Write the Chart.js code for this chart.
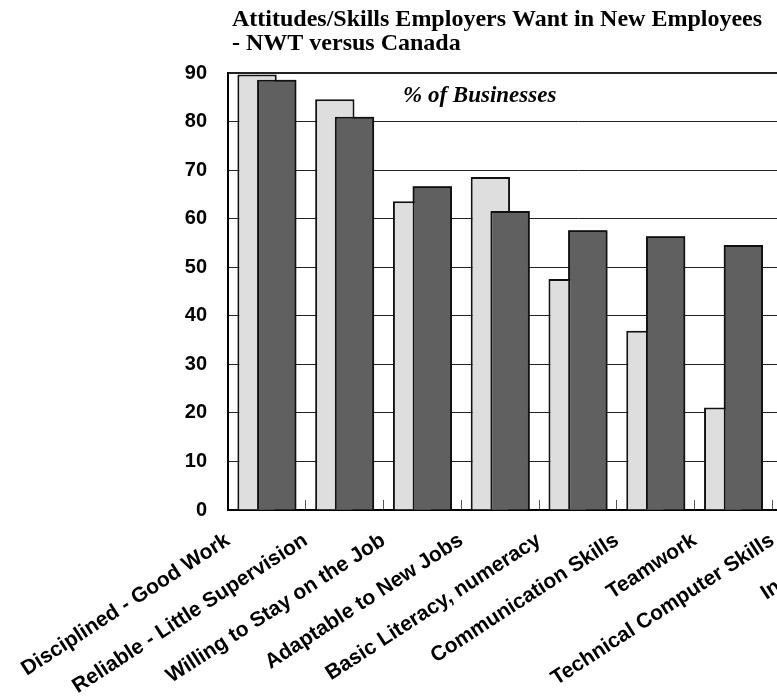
<!DOCTYPE html>
<html>
<head>
<meta charset="utf-8">
<script src="https://cdn.jsdelivr.net/npm/chart.js@4.4.1/dist/chart.umd.min.js"></script>
<style>
  html, body { margin: 0; padding: 0; background: #fff; overflow: hidden; }
  #wrap { width: 777px; height: 700px; overflow: hidden; }
</style>
</head>
<body>
<div id="wrap"><canvas id="chart" width="944" height="700"></canvas></div>
<script>
const titleLines = ['Attitudes/Skills Employers Want in New Employees', '- NWT versus Canada'];
const unitLabel = '% of Businesses';

const categories = [
  'Disciplined - Good Work',
  'Reliable - Little Supervision',
  'Willing to Stay on the Job',
  'Adaptable to New Jobs',
  'Basic Literacy, numeracy',
  'Communication Skills',
  'Teamwork',
  'Technical Computer Skills',
  'Innovative'
];
const nwtValues = [89.7, 84.6, 63.6, 68.6, 47.6, 36.9, 21.1];
const canadaValues = [88.6, 81.0, 66.7, 61.6, 57.6, 56.4, 54.6];

const yMin = 0;
const yMax = 90;
const yStep = 10;

Chart.defaults.font.family = '"Liberation Sans", Arial, sans-serif';
Chart.defaults.color = '#000';

// canada bars sit in front of the nwt bars they overlap
const canadaOnTop = {
  id: 'canadaOnTop',
  afterDatasetsDraw(chart) {
    chart.getDatasetMeta(1).controller.draw();
  }
};

// heading above the plot and the unit note inside it
const headings = {
  id: 'headings',
  afterDraw(chart) {
    const { ctx, chartArea } = chart;
    ctx.save();
    ctx.fillStyle = '#000';
    ctx.textAlign = 'left';
    ctx.textBaseline = 'alphabetic';
    ctx.font = 'bold 24px "Liberation Serif", "Times New Roman", serif';
    titleLines.forEach((line, i) => ctx.fillText(line, chartArea.left + 4, 26 + i * 24));
    ctx.font = 'italic bold 23px "Liberation Serif", "Times New Roman", serif';
    ctx.fillText(unitLabel, chartArea.left + 175, chartArea.top + 29);
    ctx.restore();
  }
};

const ctx = document.getElementById('chart').getContext('2d');

const chart = new Chart(ctx, {
  type: 'bar',
  data: {
    labels: categories,
    datasets: [
      {
        label: 'NWT',
        data: nwtValues,
        backgroundColor: '#dedede',
        borderColor: '#111',
        borderWidth: 2,
        categoryPercentage: 0.506,
        barPercentage: 2
      },
      {
        label: 'Canada',
        data: canadaValues,
        backgroundColor: '#606060',
        borderColor: '#111',
        borderWidth: 2,
        categoryPercentage: 0.506,
        barPercentage: 2
      }
    ]
  },
  options: {
    responsive: false,
    animation: false,
    layout: { padding: { left: 168, top: 73, right: 16, bottom: 0 } },
    plugins: {
      legend: { display: false },
      title: { display: false },
      tooltip: { enabled: false }
    },
    scales: {
      x: {
        z: 1,
        afterFit: s => { s.height = 190; },
        grid: { offset: true, drawOnChartArea: false, tickLength: -10, color: '#555', lineWidth: 1 },
        border: { color: '#000', width: 2 },
        ticks: {
          autoSkip: false,
          minRotation: 33,
          maxRotation: 33,
          labelOffset: -39,
          padding: 28,
          color: '#000',
          font: { size: 21, weight: 'bold' }
        }
      },
      y: {
        z: 1,
        min: yMin,
        max: yMax,
        afterFit: s => { s.width = 60; },
        grid: {
          drawTicks: false,
          color: '#222',
          lineWidth: c => (c.tick && c.tick.value === yMax ? 2 : 1)
        },
        border: { color: '#000', width: 2 },
        ticks: {
          stepSize: yStep,
          padding: 21,
          color: '#000',
          font: { size: 20, weight: 'bold' }
        }
      }
    }
  },
  plugins: [canadaOnTop, headings]
});
</script>
</body>
</html>
